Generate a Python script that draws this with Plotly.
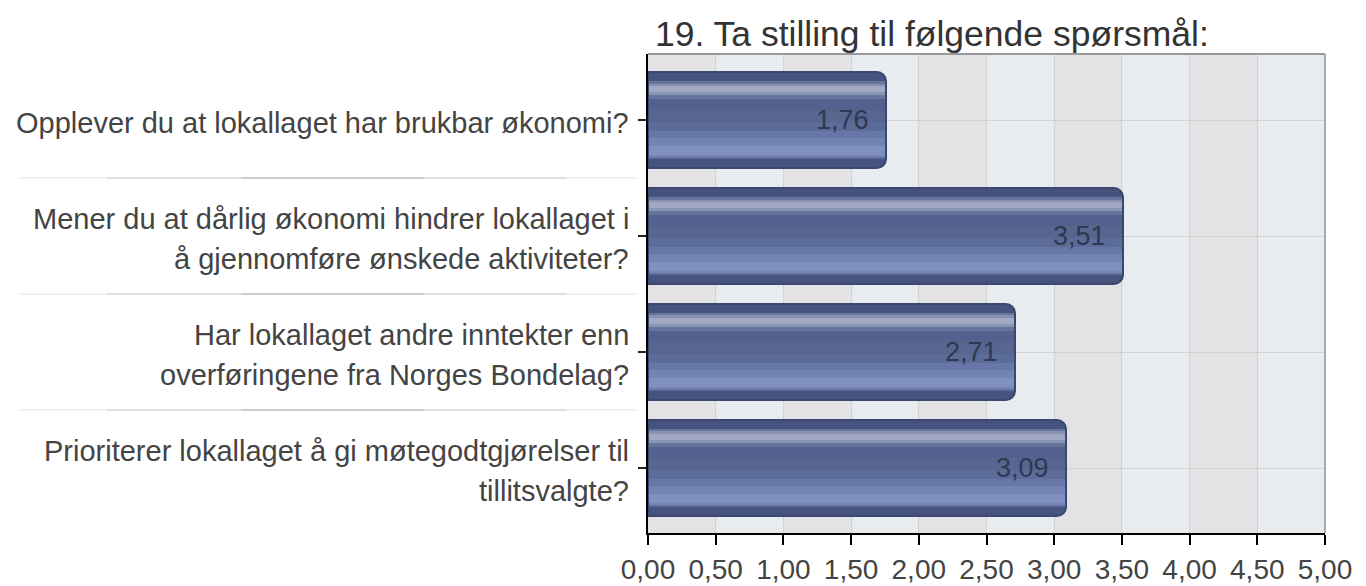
import plotly.graph_objects as go

title_text = "19. Ta stilling til følgende spørsmål:"
categories = [
    "Opplever du at lokallaget har brukbar økonomi?",
    "Mener du at dårlig økonomi hindrer lokallaget i<br>å gjennomføre ønskede aktiviteter?",
    "Har lokallaget andre inntekter enn<br>overføringene fra Norges Bondelag?",
    "Prioriterer lokallaget å gi møtegodtgjørelser til<br>tillitsvalgte?",
]
values = [1.76, 3.51, 2.71, 3.09]
x_ticks = [0, 0.5, 1.0, 1.5, 2.0, 2.5, 3.0, 3.5, 4.0, 4.5, 5.0]

FONT = "Liberation Sans, Arial, sans-serif"
W = 0.83  # bar thickness in category units
RADIUS = 9
LINE_GAP = 40  # px between label lines

# gradient slabs inside each bar (fraction from top, fraction to, colour)
slabs = [
    (0.095, 0.12, "#68769e"),
    (0.12, 0.145, "#8792b3"),
    (0.145, 0.21, "#a1a9c2"),
    (0.21, 0.24, "#8995b7"),
    (0.24, 0.28, "#66749e"),
    (0.28, 0.40, "#52618d"),
    (0.40, 0.52, "#56668f"),
    (0.52, 0.61, "#5c6c99"),
    (0.61, 0.69, "#6777a7"),
    (0.69, 0.77, "#7383b4"),
    (0.77, 0.86, "#8090c0"),
    (0.86, 0.885, "#7686b6"),
    (0.885, 0.905, "#5f6f9e"),
]

fig = go.Figure()

fig.add_trace(go.Bar(
    x=values, y=categories, orientation="h", width=W,
    marker=dict(color="#45537e", cornerradius=RADIUS, line=dict(width=0)),
    hoverinfo="skip", showlegend=False,
))
for a, b, col in slabs:
    fig.add_trace(go.Bar(
        x=values, y=categories, orientation="h",
        width=(b - a) * W, offset=-W / 2 + a * W,
        marker=dict(color=col, line=dict(width=0)),
        hoverinfo="skip", showlegend=False,
    ))
fig.add_trace(go.Bar(
    x=values, y=categories, orientation="h", width=W,
    marker=dict(color="rgba(0,0,0,0)", cornerradius=RADIUS,
                line=dict(color="#3a4870", width=2)),
    hoverinfo="skip", showlegend=False,
))

shapes = []
for i in range(len(x_ticks) - 1):
    shapes.append(dict(
        type="rect", xref="x", yref="paper",
        x0=x_ticks[i], x1=x_ticks[i + 1], y0=0, y1=1,
        fillcolor="#e3e3e5" if i % 2 == 0 else "#e9ecef",
        line=dict(width=0), layer="below",
    ))
shapes.append(dict(type="line", xref="paper", yref="paper", x0=0, x1=1, y0=1, y1=1,
                   line=dict(color="#9a9a9a", width=2)))
shapes.append(dict(type="line", xref="paper", yref="paper", x0=1, x1=1, y0=0, y1=1,
                   line=dict(color="#a8a8a8", width=2)))
seg_style = [(-0.93, -0.80, "#ececec"), (-0.80, -0.60, "#d6d6d6"), (-0.60, -0.33, "#bdbdbd"),
             (-0.33, -0.12, "#d6d6d6"), (-0.12, -0.015, "#ececec")]
for k in range(len(categories) - 1):
    for x0, x1, col in seg_style:
        shapes.append(dict(type="line", xref="paper", yref="y", x0=x0, x1=x1,
                           y0=k + 0.5, y1=k + 0.5, line=dict(color=col, width=1.5)))

annotations = []
for c, v in zip(categories, values):
    annotations.append(dict(
        x=v, y=c, xref="x", yref="y", text=f"{v:.2f}".replace(".", ","),
        showarrow=False, xanchor="right", yanchor="middle", xshift=-15,
        font=dict(family=FONT, size=27, color="#2f3852"),
    ))
    lines = c.split("<br>")
    n = len(lines)
    for j, ln in enumerate(lines):
        annotations.append(dict(
            x=0, y=c, xref="paper", yref="y", text=ln,
            showarrow=False, xanchor="right", yanchor="middle",
            xshift=-17, yshift=-((j - (n - 1) / 2) * LINE_GAP) - 3,
            font=dict(family=FONT, size=29, color="#444444"),
        ))

fig.update_layout(
    width=1366, height=586,
    margin=dict(l=648, r=41, t=54, b=53, autoexpand=False),
    paper_bgcolor="white", plot_bgcolor="#e6e7ea",
    barmode="overlay", bargap=0,
    separators=",.",
    title=dict(text=title_text, x=655 / 1366, xanchor="left", xref="container",
               y=1 - 34 / 586, yanchor="middle", yref="container",
               font=dict(family=FONT, size=35.5, color="#333333")),
    xaxis=dict(range=[0, 5], tickvals=x_ticks, tickformat=".2f",
               showgrid=True, gridcolor="#d2d2d2", gridwidth=1,
               zeroline=False, showline=True, linecolor="black", linewidth=2,
               ticks="outside", ticklen=10, tickwidth=2, tickcolor="black",
               ticklabelstandoff=0, automargin=False,
               tickfont=dict(family=FONT, size=28, color="#444444")),
    yaxis=dict(range=[3.56, -0.57], type="category", automargin=False,
               showgrid=True, gridcolor="#d2d2d2", gridwidth=1,
               zeroline=False, showline=True, linecolor="black", linewidth=2,
               ticks="outside", ticklen=8, tickwidth=2, tickcolor="#222222",
               showticklabels=False),
    shapes=shapes, annotations=annotations,
)

fig.write_html("out.html", config={"displayModeBar": False},
               post_script="document.body.style.margin='0px';")
